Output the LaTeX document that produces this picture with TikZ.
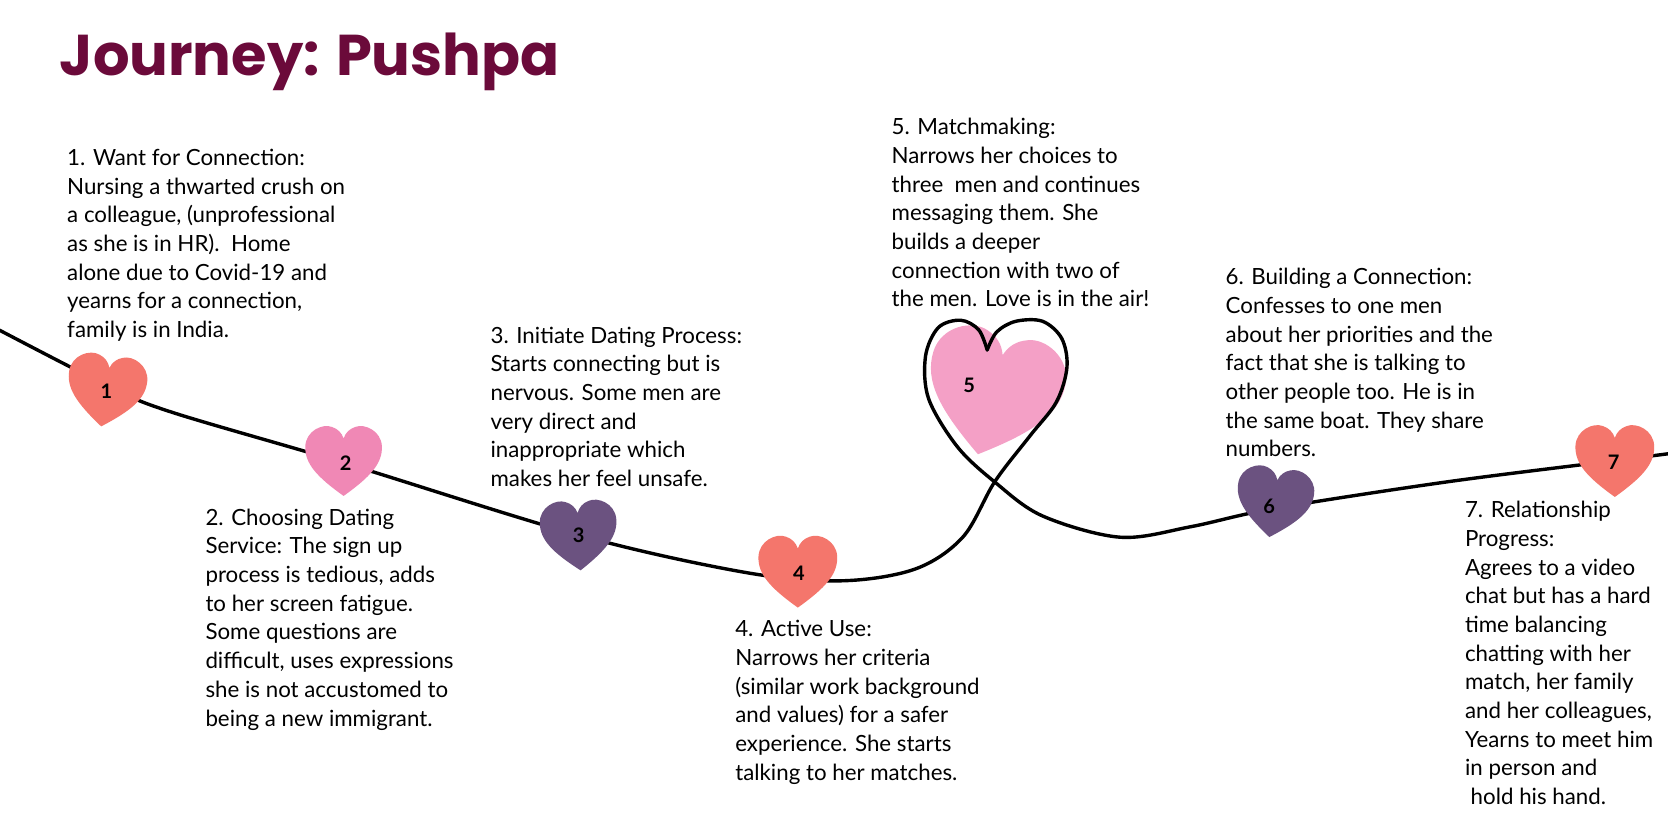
\documentclass[tikz,border=0pt]{standalone}
\usepackage{fontspec}
\setmainfont{Lato}
\newfontfamily\titlefont{Poppins}
\definecolor{maroon}{HTML}{6B0A3A}
\definecolor{salmon}{HTML}{F4766C}
\definecolor{pinkA}{HTML}{F088B5}
\definecolor{pinkB}{HTML}{F4A0C6}
\definecolor{plum}{HTML}{6B5280}
\tikzset{
  heart/.pic={\fill[#1] (0,0.95) .. controls (-0.7,0.45) and (-1.02,0.1) .. (-1,-0.35) .. controls (-0.98,-0.75) and (-0.55,-0.95) .. (-0.3,-0.85) .. controls (-0.15,-0.8) and (-0.05,-0.7) .. (0,-0.55) .. controls (0.05,-0.7) and (0.15,-0.8) .. (0.3,-0.85) .. controls (0.55,-0.95) and (0.98,-0.75) .. (1,-0.35) .. controls (1.02,0.1) and (0.7,0.45) .. (0,0.95) -- cycle;},
  num/.style={font=\fontsize{20}{20}\selectfont\bfseries},
  story/.style={anchor=north west,align=left,inner sep=0pt,font=\fontsize{22.3}{28.7}\selectfont},
  journey/.style={line width=3.4pt,black,line cap=round,line join=round}
}
\begin{document}
\begin{tikzpicture}[x=1.0638pt,y=-1.0638pt]
\useasboundingbox[fill=white] (0,0) rectangle (1568,789.6);
\node[anchor=west,inner sep=0pt,text=maroon,font=\titlefont\fontsize{57.5}{57.5}\selectfont\bfseries] (title) at (56,58) {Journey: Pushpa};
% heart 5 fill
\pic[rotate=-14,scale=64] at (934,368) {heart=pinkB};
\draw[journey] plot[smooth,tension=0.55] coordinates {(-5,308) (100,362) (160,387) (323,435) (544,503) (700,538) (790,546) (860,535) (905,505) (935,453) (968,410) (993,378) (1003,345) (998,318) (980,302) (955,302) (937,312) (928,329)};
\draw[journey] plot[smooth,tension=0.55] coordinates {(928,329) (920,310) (903,301) (882,308) (870,335) (873,375) (900,420) (935,453) (980,485) (1053,505) (1120,495) (1198,478) (1360,453) (1518,433) (1580,425)};
\pic[rotate=-8,scale=37] at (100,366) {heart=salmon};
\pic[rotate=0,scale=36] at (323,432) {heart=pinkA};
\pic[rotate=3,scale=36] at (544,502) {heart=plum};
\pic[rotate=0,scale=37] at (750,536) {heart=salmon};
\pic[rotate=-8,scale=36] at (1198,471) {heart=plum};
\pic[rotate=0,scale=37] at (1518,432) {heart=salmon};
\node[num] (n1) at (100,368) {1};
\node[num] (n2) at (325,435) {2};
\node[num] (n3) at (544,503) {3};
\node[num] (n4) at (751,539) {4};
\node[num] (n5) at (911,362) {5};
\node[num] (n6) at (1193,476) {6};
\node[num] (n7) at (1517,435) {7};
\node[story] (t1) at (63,140) {1. Want for Connection:\\Nursing a thwarted crush on\\a colleague, (unprofessional\\as she is in HR).\ \ Home\\alone due to Covid-19 and\\yearns for a connection,\\family is in India.};
\node[story] (t2) at (193,478) {2. Choosing Dating\\Service: The sign up\\process is tedious, adds\\to her screen fatigue.\\Some questions are\\difficult, uses expressions\\she is not accustomed to\\being a new immigrant.};
\node[story] (t3) at (461,307) {3. Initiate Dating Process:\\Starts connecting but is\\nervous. Some men are\\very direct and\\inappropriate which\\makes her feel unsafe.};
\node[story] (t4) at (691,583) {4. Active Use:\\Narrows her criteria\\(similar work background\\and values) for a safer\\experience. She starts\\talking to her matches.};
\node[story] (t5) at (838,111) {5. Matchmaking:\\Narrows her choices to\\three\ \ men and continues\\messaging them. She\\builds a deeper\\connection with two of\\the men. Love is in the air!};
\node[story] (t6) at (1152,252) {6. Building a Connection:\\Confesses to one men\\about her priorities and the\\fact that she is talking to\\other people too. He is in\\the same boat. They share\\numbers.};
\node[story] (t7) at (1377,471) {7. Relationship\\Progress:\\Agrees to a video\\chat but has a hard\\time balancing\\chatting with her\\match, her family\\and her colleagues,\\Yearns to meet him\\in person and\\\ hold his hand.};
\end{tikzpicture}
\end{document}
